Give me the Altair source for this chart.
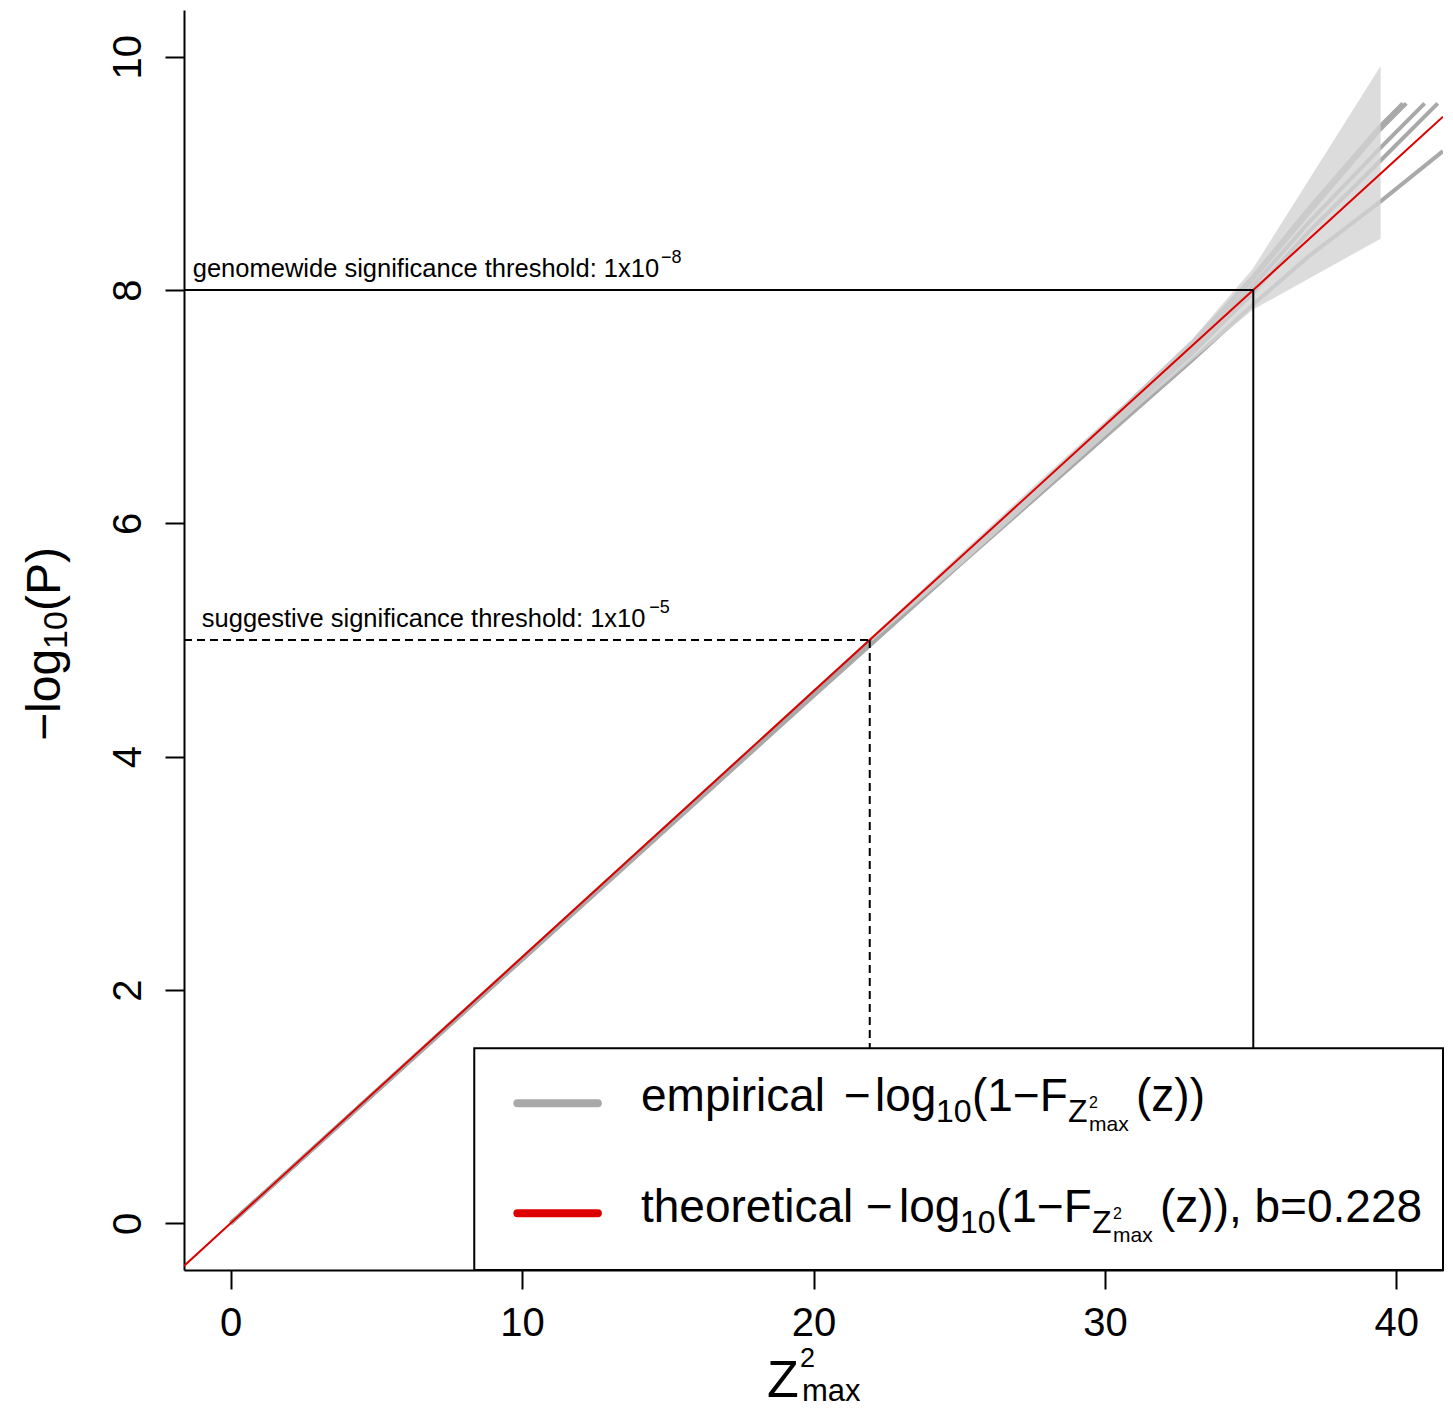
import altair as alt
import pandas as pd

FONT = "Liberation Sans"

# ---------------- data ----------------
X_DOMAIN = [-1.6, 41.6]
Y_DOMAIN = [-0.4, 10.4]
x_ticks = [0, 10, 20, 30, 40]
y_ticks = [0, 2, 4, 6, 8, 10]

# empirical curves (-log10(1-F) of Z^2_max)
emp_names = ["e1", "e2", "e3", "e4", "e5"]
emp_x = {
    "e1": [0, 10, 20, 25, 30, 33, 35.1, 37, 39.46, 40.34],
    "e2": [0, 10, 20, 25, 30, 33, 35.1, 37, 39.46, 40.22],
    "e3": [0, 10, 20, 25, 30, 33, 35.1, 37, 39.46, 40.97],
    "e4": [0, 10, 20, 25, 30, 33, 35.1, 37, 39.46, 41.42],
    "e5": [0, 10, 20, 25, 30, 33, 35.1, 37, 39.46, 41.6],
}
emp_y = {
    "e1": [0, 2.27, 4.55, 5.69, 6.83, 7.53, 8.10, 8.66, 9.38, 9.60],
    "e2": [0, 2.27, 4.55, 5.69, 6.84, 7.55, 8.12, 8.70, 9.41, 9.60],
    "e3": [0, 2.27, 4.54, 5.68, 6.81, 7.50, 8.04, 8.58, 9.22, 9.60],
    "e4": [0, 2.26, 4.53, 5.66, 6.78, 7.46, 7.98, 8.50, 9.11, 9.60],
    "e5": [0, 2.26, 4.52, 5.64, 6.74, 7.40, 7.88, 8.29, 8.76, 9.19],
}

# grey envelope
band_x = [22, 25, 28, 31, 33, 35.07, 39.46]
band_lo = [4.99, 5.63, 6.30, 6.97, 7.40, 7.83, 8.44]
band_hi = [5.03, 5.73, 6.42, 7.10, 7.58, 8.18, 9.92]

# theoretical curve, b = 0.228
theo_x = [-1.6, 0, 10, 20, 30, 40, 41.6]
theo_y = [-0.365, 0, 2.28, 4.56, 6.84, 9.12, 9.485]

# thresholds
gw_x, gw_y = 35.09, 8
sg_x, sg_y = 21.93, 5

# legend box (data coords)
leg_x = [8.36, 41.6]
leg_y = [-0.4, 1.5]
leg_line_x = [9.84, 12.6]
leg_line_y = [1.03, 0.086]

# ---------------- scales / axes ----------------
xs = alt.Scale(domain=X_DOMAIN, nice=False, zero=False)
ys = alt.Scale(domain=Y_DOMAIN, nice=False, zero=False)
X_AX = alt.Axis(values=x_ticks, title=None, orient="bottom", labelPadding=14,
                labelFlush=False, labelOverlap=False, format="d")
Y_AX = alt.Axis(values=y_ticks, title=None, orient="left", labelAngle=270,
                labelAlign="center", labelBaseline="alphabetic", labelPadding=25,
                labelFlush=False, labelOverlap=False, format="d")

GREY = "#A9A9A9"
RED = "#DD0000"


def X(field):
    return alt.X(field, scale=xs, axis=X_AX)


def Y(field):
    return alt.Y(field, scale=ys, axis=Y_AX)


rows = []
for n in emp_names:
    for xv, yv in zip(emp_x[n], emp_y[n]):
        rows.append({"s": n, "x": xv, "y": yv})
emp_df = pd.DataFrame(rows)

emp = alt.Chart(emp_df).mark_line(color=GREY, strokeWidth=4, clip=True).encode(
    x=X("x:Q"), y=Y("y:Q"), detail="s:N", order="x:Q",
)

band = alt.Chart(pd.DataFrame({"x": band_x, "lo": band_lo, "hi": band_hi})).mark_area(
    color="#D3D3D3", opacity=0.8, clip=True
).encode(x=X("x:Q"), y=Y("lo:Q"), y2="hi:Q")

theo = alt.Chart(pd.DataFrame({"x": theo_x, "y": theo_y})).mark_line(
    color=RED, strokeWidth=2, clip=True
).encode(x=X("x:Q"), y=Y("y:Q"))

gw_rule = alt.Chart(pd.DataFrame([
    {"x": X_DOMAIN[0], "x2": gw_x, "y": gw_y, "y2": gw_y},
    {"x": gw_x, "x2": gw_x, "y": gw_y, "y2": Y_DOMAIN[0]},
])).mark_rule(color="black", strokeWidth=2).encode(
    x=X("x:Q"), x2="x2:Q", y=Y("y:Q"), y2="y2:Q",
)
sg_rule = alt.Chart(pd.DataFrame([
    {"x": X_DOMAIN[0], "x2": sg_x, "y": sg_y, "y2": sg_y},
    {"x": sg_x, "x2": sg_x, "y": sg_y, "y2": Y_DOMAIN[0]},
])).mark_rule(color="black", strokeWidth=2, strokeDash=[8, 5]).encode(
    x=X("x:Q"), x2="x2:Q", y=Y("y:Q"), y2="y2:Q",
)

thr_text = alt.Chart(pd.DataFrame({
    "x": [-1.30, -0.99],
    "y": [8.11, 5.11],
    "t": ["genomewide significance threshold: 1x10", "suggestive significance threshold: 1x10"],
})).mark_text(align="left", baseline="alphabetic", font=FONT, fontSize=25.5, color="black").encode(
    x=X("x:Q"), y=Y("y:Q"), text="t:N"
)
thr_sup = alt.Chart(pd.DataFrame({
    "x": [14.77, 14.36],
    "y": [8.23, 5.23],
    "t": ["\u22128", "\u22125"],
})).mark_text(align="left", baseline="alphabetic", font=FONT, fontSize=18, color="black").encode(
    x=X("x:Q"), y=Y("y:Q"), text="t:N"
)

legend_box = alt.Chart(pd.DataFrame({"x": [leg_x[0]], "x2": [leg_x[1]], "y": [leg_y[0]], "y2": [leg_y[1]]})).mark_rect(
    fill="white", stroke="black", strokeWidth=2
).encode(x=X("x:Q"), x2="x2:Q", y=Y("y:Q"), y2="y2:Q")

legend_lines = alt.Chart(pd.DataFrame({
    "x": leg_line_x * 2,
    "y": [leg_line_y[0]] * 2 + [leg_line_y[1]] * 2,
    "k": ["emp", "emp", "theo", "theo"],
})).mark_line(strokeWidth=8, strokeCap="round").encode(
    x=X("x:Q"), y=Y("y:Q"),
    color=alt.Color("k:N", scale=alt.Scale(domain=["emp", "theo"], range=[GREY, RED]), legend=None),
    detail="k:N",
)


def piece(text, px, py, size, angle=0):
    return alt.Chart(pd.DataFrame({"t": [text]})).mark_text(
        align="left", baseline="alphabetic", font=FONT, fontSize=size, angle=angle, color="black"
    ).encode(x=alt.value(px), y=alt.value(py), text="t:N")


MAIN, SUB, SUP2, SUB2 = 46, 32, 16, 21
legend_text = [
    # line 1
    piece("empirical", 457, 1101, MAIN),
    piece("\u2212", 660, 1101, MAIN),
    piece("log", 691, 1101, MAIN),
    piece("10", 752, 1112, SUB),
    piece("(1\u2212F", 788, 1101, MAIN),
    piece("Z", 884, 1112, SUB),
    piece("2", 905, 1098, SUP2),
    piece("max", 905, 1121, SUB2),
    piece("(z))", 952, 1101, MAIN),
    # line 2
    piece("theoretical", 457, 1212, MAIN),
    piece("\u2212", 682, 1212, MAIN),
    piece("log", 715, 1212, MAIN),
    piece("10", 776, 1223, SUB),
    piece("(1\u2212F", 812, 1212, MAIN),
    piece("Z", 908, 1223, SUB),
    piece("2", 929, 1209, SUP2),
    piece("max", 929, 1232, SUB2),
    piece("(z)), b=0.228", 976, 1212, MAIN),
]

titles = [
    # x title  Z^2_max
    piece("Z", 583, 1387, 52),
    piece("2", 616, 1357, 27),
    piece("max", 618, 1391, 31),
    # y title  -log10(P), rotated
    piece("\u2212log", -124, 731, 48, 270),
    piece("10", -117, 639, 34, 270),
    piece("(P)", -124, 601, 48, 270),
]

chart = alt.layer(
    emp, band, theo, gw_rule, sg_rule, thr_text, thr_sup,
    legend_box, legend_lines, *legend_text, *titles,
).properties(
    width=1259,
    height=1260,
    autosize=alt.AutoSizeParams(type="none"),
    padding={"left": 176, "top": 2, "right": 2, "bottom": 138},
).configure_view(stroke=None).configure_axis(
    grid=False,
    domainColor="black",
    domainWidth=2,
    tickColor="black",
    tickWidth=2,
    tickSize=19,
    labelFont=FONT,
    labelFontSize=40,
    labelColor="black",
)

chart.save("out.html", embed_options={"renderer": "svg", "actions": False})
